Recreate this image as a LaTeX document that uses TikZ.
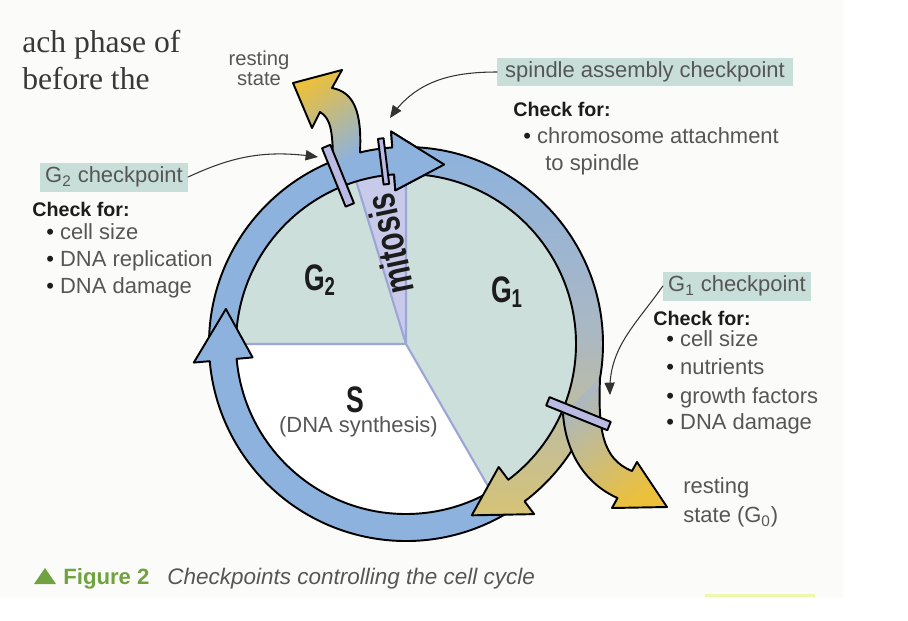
\documentclass[tikz,border=0pt]{standalone}
\usepackage{fontspec}
\usepackage{xcolor}
\usepackage{tikz}
\usetikzlibrary{arrows}
\setmainfont{Liberation Sans}
\newfontfamily\serifface{Liberation Serif}
\newfontfamily\narrowface[FakeStretch=0.72]{Liberation Sans}
\definecolor{ringblue}{RGB}{141,178,222}
\definecolor{ringgrey}{RGB}{170,184,196}
\definecolor{ringtan}{RGB}{214,195,118}
\definecolor{goldy}{RGB}{236,192,58}
\definecolor{phaseteal}{RGB}{204,223,219}
\definecolor{labelteal}{RGB}{200,222,216}
\definecolor{mitlilac}{RGB}{200,202,234}
\definecolor{barlilac}{RGB}{186,186,226}
\definecolor{sectline}{RGB}{156,166,214}
\definecolor{txtgrey}{RGB}{86,86,86}
\definecolor{txtdark}{RGB}{28,28,28}
\definecolor{figgreen}{RGB}{112,162,64}
\definecolor{pagetint}{RGB}{251,252,249}
\definecolor{marker}{RGB}{238,248,172}
\newcommand{\ringarrow}[4]{\draw[line width=1.1pt,#1] (#2:197) arc[start angle=#2,end angle=#3,radius=197] -- (#3:213) -- (#4:183.5) -- (#3:154) -- (#3:170) arc[start angle=#3,end angle=#2,radius=170] -- cycle;}
\newcommand{\checkbar}[4]{\draw[line width=1.1pt,fill=barlilac,rotate=#1] (#2,-#4) rectangle (#3,#4);}
\newcommand{\dotitem}{{\color{txtdark}\textbullet}\ }
\tikzstyle{every node}=[font=\fontsize{12.5}{15}\selectfont,text=txtgrey,inner sep=0pt]
\tikzstyle{checkbox}=[fill=labelteal,minimum width=84pt,minimum height=16.5pt]
\tikzstyle{checkhead}=[font=\fontsize{11.2}{13}\selectfont\bfseries,text=txtdark,anchor=base west]
\tikzstyle{checkitem}=[anchor=base west]
\tikzstyle{phase}=[font=\narrowface\bfseries\fontsize{21}{21}\selectfont,text=txtdark]
\tikzstyle{pointer}=[->,line width=0.6pt,black!80]

\begin{document}
\begin{tikzpicture}[line cap=round,line join=round,>=triangle 45,x=0.02cm,y=0.02cm]
\useasboundingbox (-406,-276) rectangle (502,344);
\fill[white] (-406,-276) rectangle (502,344);
\fill[pagetint] (-406,-254) rectangle (437,344);
\fill[marker] (299,-250) rectangle (409,-253);
\node[font=\serifface\fontsize{18}{18}\selectfont,text=black!78,anchor=base west] (phaseof) at (-384,292) {ach phase of};
\node[font=\serifface\fontsize{18}{18}\selectfont,text=black!78,anchor=base west] (beforethe) at (-384,255) {before the};
\fill[phaseteal] (0,0) -- (-60:170) arc[start angle=-60,end angle=90,radius=170] -- cycle;
\fill[phaseteal] (0,0) -- (107:170) arc[start angle=107,end angle=180,radius=170] -- cycle;
\fill[mitlilac] (0,0) -- (90:170) arc[start angle=90,end angle=107,radius=170] -- cycle;
\fill[white] (0,0) -- (180:170) arc[start angle=180,end angle=300,radius=170] -- cycle;
\draw[sectline,line width=1.2pt] (180:170) -- (0,0) -- (-60:170) (90:170) -- (0,0) -- (107:170);
\ringarrow{fill=ringblue}{180}{94}{78}
\ringarrow{fill=ringblue}{-57}{-175}{-191}
\ringarrow{top color=ringblue,bottom color=ringtan,middle color=ringgrey,shading angle=0}{90}{-53}{-69}
\fill[ringblue] (94:213) -- (78:183.5) -- (94:154) -- cycle;
\draw[line width=1.1pt] (94:197) -- (94:213) -- (78:183.5) -- (94:154) -- (94:170);
\shade[top color=ringgrey,bottom color=goldy,shading angle=35] (194,-34) .. controls (192,-85) and (196,-115) .. (226,-127) -- (231,-118) -- (261,-163) -- (206,-164) -- (211.5,-154) .. controls (180,-140) and (160,-110) .. (157,-70) -- cycle;
\draw[line width=1.1pt] (194,-34) .. controls (192,-85) and (196,-115) .. (226,-127) -- (231,-118) -- (261,-163) -- (206,-164) -- (211.5,-154) .. controls (180,-140) and (160,-110) .. (157,-70);
\shade[top color=goldy,bottom color=ringblue,shading angle=35] (-46,191.5) .. controls (-44,232) and (-52,252) .. (-74,256) -- (-64,274) -- (-113,261) -- (-94,216) -- (-86,232) .. controls (-76,226) and (-73,215) .. (-73,180) -- (-73,172) -- (-46,182) -- cycle;
\draw[line width=1.1pt] (-46,191.5) .. controls (-44,232) and (-52,252) .. (-74,256) -- (-64,274) -- (-113,261) -- (-94,216) -- (-86,232) .. controls (-76,226) and (-73,215) .. (-73,180);
\checkbar{-22}{153}{219}{4.5}
\checkbar{112}{150}{213}{4.5}
\checkbar{97}{161}{207}{2.8}
\node[phase] (gtwo) at (-86,64) {G\textsubscript{2}};
\node[phase] (gone) at (101,52) {G\textsubscript{1}};
\node[phase] (sphase) at (-51,-56) {S};
\node (synth) at (-47.5,-83) {(DNA synthesis)};
\node[phase,font=\narrowface\bfseries\fontsize{23}{23}\selectfont,rotate=102] (mito) at (-16,100) {mitosis};
\node[align=center,font=\fontsize{11.5}{11.5}\selectfont] (restup) at (-147,276) {resting\\state};
\node[checkbox,minimum width=168pt] (spindlebox) at (239,272) {spindle assembly checkpoint};
\node[checkbox] (gtwobox) at (-292,167) {G\textsubscript{2} checkpoint};
\node[checkbox] (gonebox) at (331,58) {G\textsubscript{1} checkpoint};
\coordinate (spindletip) at (-16,226);
\coordinate (gtwotip) at (-88,187);
\coordinate (gonetip) at (204,-51);
\draw[pointer] (spindlebox.west) to[out=180,in=55] (spindletip);
\draw[pointer] (gtwobox.east) to[out=25,in=172] (gtwotip);
\draw[pointer] (gonebox.west) to[out=235,in=92] (gonetip);
\node[checkhead] (spcheck) at (107,228) {Check for:};
\node[checkitem] (spitema) at (117,201) {\dotitem chromosome attachment};
\node[checkitem] (spitemb) at (139,174) {to spindle};
\node[checkhead] (gtwocheck) at (-374,128) {Check for:};
\node[checkitem] (gtwoitema) at (-360,105) {\dotitem cell size};
\node[checkitem] (gtwoitemb) at (-360,78) {\dotitem DNA replication};
\node[checkitem] (gtwoitemc) at (-360,51) {\dotitem DNA damage};
\node[checkhead] (gonecheck) at (247,19) {Check for:};
\node[checkitem] (goneitema) at (260,-2) {\dotitem cell size};
\node[checkitem] (goneitemb) at (260,-30) {\dotitem nutrients};
\node[checkitem] (goneitemc) at (260,-59) {\dotitem growth factors};
\node[checkitem] (goneitemd) at (260,-85) {\dotitem DNA damage};
\node[align=left,anchor=west,font=\fontsize{12.5}{16.4}\selectfont] (restdown) at (277,-158.5) {resting\\state (G\textsubscript{0})};
\fill[figgreen] (-372,-240) -- (-350,-240) -- (-361,-224) -- cycle;
\node[anchor=base west,font=\fontsize{12.6}{14}\selectfont\bfseries,text=figgreen] (figlabel) at (-343,-240) {Figure 2};
\node[anchor=base west,font=\fontsize{12.8}{14}\selectfont\itshape,text=txtgrey] (figtitle) at (-239,-240) {Checkpoints controlling the cell cycle};
\end{tikzpicture}
\end{document}
